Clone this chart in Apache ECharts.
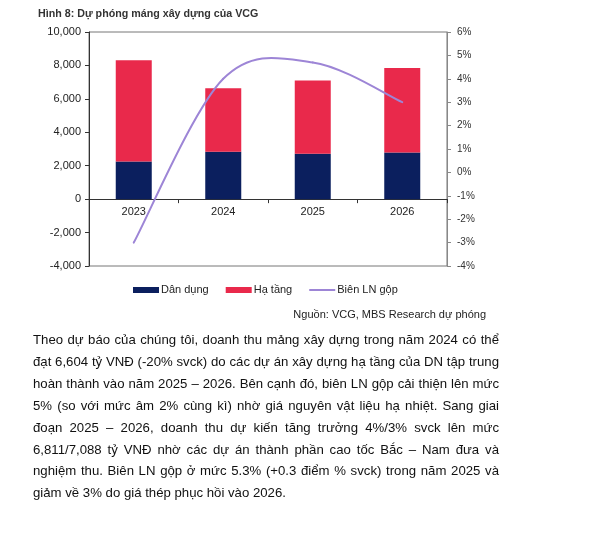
<!DOCTYPE html>
<html>
<head>
<meta charset="utf-8">
<script src="https://cdn.jsdelivr.net/npm/echarts@6/dist/echarts.min.js"></script>
<style>
html,body{margin:0;padding:0;background:#fff;}
#chart{position:absolute;left:0;top:0;width:609px;height:534px;}
#para{position:absolute;left:33px;top:329px;width:466px;font-family:"Liberation Sans",Arial,sans-serif;font-size:13.2px;line-height:21.9px;color:#111;}
#para div{text-align:justify;text-align-last:justify;white-space:nowrap;}
#para div.last{text-align-last:left;}
</style>
</head>
<body>
<div id="chart"></div>
<div id="para"></div>
<script>
const categories = ['2023', '2024', '2025', '2026'];
const danDung = [2250, 2830, 2710, 2790];
const haTang = [6060, 3810, 4390, 5060];
const bienLN = [-3.0, 4.0, 4.7, 3.0];

const titleText = 'Hình 8: Dự phóng máng xây dựng của VCG';
const sourceText = 'Nguồn: VCG, MBS Research dự phóng';
const paraLines = [
  'Theo dự báo của chúng tôi, doanh thu mảng xây dựng trong năm 2024 có thể',
  'đạt 6,604 tỷ VNĐ (-20% svck) do các dự án xây dựng hạ tầng của DN tập trung',
  'hoàn thành vào năm 2025 – 2026. Bên cạnh đó, biên LN gộp cải thiện lên mức',
  '5% (so với mức âm 2% cùng kì) nhờ giá nguyên vật liệu hạ nhiệt. Sang giai',
  'đoạn 2025 – 2026, doanh thu dự kiến tăng trưởng 4%/3% svck lên mức',
  '6,811/7,088 tỷ VNĐ nhờ các dự án thành phần cao tốc Bắc – Nam đưa và',
  'nghiệm thu. Biên LN gộp ở mức 5.3% (+0.3 điểm % svck) trong năm 2025 và',
  'giảm về 3% do giá thép phục hồi vào 2026.'
];

const para = document.getElementById('para');
paraLines.forEach((t, i) => {
  const d = document.createElement('div');
  d.textContent = t;
  if (i === paraLines.length - 1) d.className = 'last';
  para.appendChild(d);
});

const font = '"Liberation Sans", Arial, sans-serif';
const lineColor = '#9d85d6';
const gridH = 234;
const leftMin = -4000, leftMax = 10000;
const zeroOffset = -gridH * (0 - leftMin) / (leftMax - leftMin);

// Excel-style smoothed line (Catmull-Rom, 1/6 tension) through the data points,
// positioned via the chart's own coordinate system.
function renderSmoothLine(params, api) {
  if (params.dataIndex !== 0) return null;
  const n = bienLN.length;
  const p = bienLN.map((v, i) => api.coord([i, v]));
  const at = i => p[Math.max(0, Math.min(n - 1, i))];
  const children = [];
  for (let i = 0; i < n - 1; i++) {
    const p0 = at(i - 1), p1 = at(i), p2 = at(i + 1), p3 = at(i + 2);
    children.push({
      type: 'bezierCurve',
      shape: {
        x1: p1[0], y1: p1[1], x2: p2[0], y2: p2[1],
        cpx1: p1[0] + (p2[0] - p0[0]) / 6, cpy1: p1[1] + (p2[1] - p0[1]) / 6,
        cpx2: p2[0] - (p3[0] - p1[0]) / 6, cpy2: p2[1] - (p3[1] - p1[1]) / 6
      },
      style: {stroke: lineColor, lineWidth: 2, fill: null, lineCap: 'round'}
    });
  }
  return {type: 'group', children: children};
}

const chart = echarts.init(document.getElementById('chart'), null, {renderer: 'canvas'});
chart.setOption({
  animation: false,
  textStyle: {fontFamily: font},
  title: {
    text: titleText, left: 38, top: 8.5, padding: 0,
    textStyle: {fontSize: 10.7, fontWeight: 'bold', color: '#333', fontFamily: font}
  },
  grid: {
    left: 89, right: 162, top: 32, height: gridH,
    show: true, borderColor: '#777', borderWidth: 1, containLabel: false
  },
  legend: {
    left: 133, top: 284.5, padding: 0,
    itemWidth: 26, itemHeight: 6, itemGap: 17, symbolKeepAspect: true,
    textStyle: {fontSize: 11, color: '#222', fontFamily: font, padding: [0, 0, 0, -3]},
    data: [
      {name: 'Dân dụng', icon: 'rect'},
      {name: 'Hạ tầng', icon: 'rect'},
      {name: 'Biên LN gộp', icon: 'path://M0,0H26V2H0Z'}
    ]
  },
  graphic: [{
    type: 'text', right: 123, top: 309,
    style: {text: sourceText, fontSize: 11, fill: '#222', fontFamily: font}
  }],
  xAxis: {
    type: 'category', data: categories, position: 'bottom', offset: zeroOffset,
    axisLine: {onZero: false, lineStyle: {color: '#333', width: 1}},
    axisTick: {show: true, length: 4, inside: false, lineStyle: {color: '#333'}},
    axisLabel: {fontSize: 11, color: '#222', margin: 7, fontFamily: font}
  },
  yAxis: [{
    type: 'value', min: leftMin, max: leftMax, interval: 2000,
    splitLine: {show: false},
    axisLine: {show: true, lineStyle: {color: '#333'}},
    axisTick: {show: true, length: 4, lineStyle: {color: '#333'}},
    axisLabel: {
      fontSize: 11, color: '#222', margin: 8, fontFamily: font,
      formatter: v => v.toLocaleString('en-US')
    }
  }, {
    type: 'value', min: -4, max: 6, interval: 1, position: 'right',
    splitLine: {show: false},
    axisLine: {show: true, lineStyle: {color: '#888'}},
    axisTick: {show: true, length: 4, lineStyle: {color: '#888'}},
    axisLabel: {fontSize: 10, color: '#333', margin: 10, fontFamily: font, formatter: '{value}%'}
  }],
  series: [{
    name: 'Dân dụng', type: 'bar', stack: 'rev', data: danDung, barWidth: 36,
    itemStyle: {color: '#0b1f5e'}
  }, {
    name: 'Hạ tầng', type: 'bar', stack: 'rev', data: haTang, barWidth: 36,
    itemStyle: {color: '#e9294b'}
  }, {
    name: 'Biên LN gộp', type: 'custom', yAxisIndex: 1, z: 5,
    data: bienLN.map((v, i) => [i, v]),
    encode: {x: 0, y: 1},
    itemStyle: {color: lineColor},
    renderItem: renderSmoothLine
  }]
});
</script>
</body>
</html>
